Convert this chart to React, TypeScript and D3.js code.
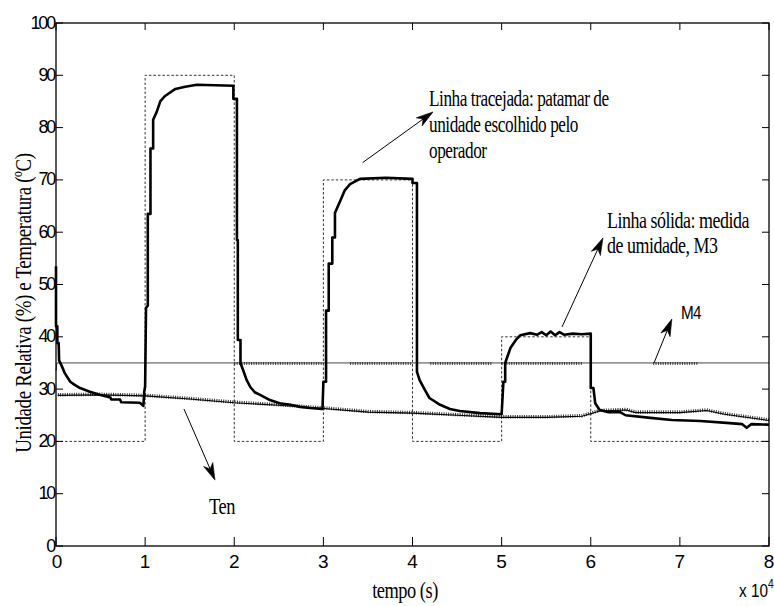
import React from 'react';
import * as d3 from 'd3';

const W = 774;
const H = 606;

// ---------- data (time in units of 10^4 s) ----------
const xTicks = [0, 1, 2, 3, 4, 5, 6, 7, 8];
const yTicks = [0, 10, 20, 30, 40, 50, 60, 70, 80, 90, 100];

// set-point chosen by operator (dashed)
const spTime = [0, 1, 1, 2, 2, 3, 3, 4, 4, 5, 5, 6, 6, 8];
const spValue = [20, 20, 90, 90, 20, 20, 70, 70, 20, 20, 40, 40, 20, 20];

// M3 measured humidity (thick solid)
const m3Time = [
  0, 0, 0.015, 0.015, 0.03, 0.035, 0.07, 0.1, 0.16, 0.21, 0.27, 0.38, 0.49, 0.61, 0.62, 0.72, 0.73, 0.94, 0.98,
  0.99, 1.0, 1.01, 1.03, 1.03, 1.06, 1.06, 1.09, 1.09, 1.13, 1.17, 1.22, 1.34, 1.45, 1.58, 1.99,
  1.99, 2.03, 2.03, 2.04, 2.04, 2.07, 2.07, 2.1, 2.14, 2.18, 2.23, 2.29, 2.4, 2.51, 2.63, 2.74, 2.85, 2.99,
  3.0, 3.03, 3.03, 3.06, 3.06, 3.1, 3.1, 3.13, 3.13, 3.19, 3.24, 3.3, 3.41, 3.7, 4.0,
  4.0, 4.05, 4.05, 4.08, 4.14, 4.19, 4.31, 4.42, 4.53, 4.76, 5.0,
  5.02, 5.04, 5.04, 5.1, 5.16, 5.21, 5.32, 5.4, 5.45, 5.5, 5.55, 5.6, 5.65, 5.7, 5.8, 5.9, 6.0,
  6.0, 6.03, 6.05, 6.1, 6.2, 6.33, 6.39, 6.67, 6.91, 7.23, 7.56, 7.7, 7.75, 7.8, 8.0,
];
const m3Value = [
  53.5, 42, 42, 38.8, 38.8, 35.5, 34.2, 33, 31.4, 30.8, 30.2, 29.5, 28.9, 28.4, 28, 28, 27.5, 27.4, 26.8,
  29.5, 30.5, 45.5, 46, 63.5, 63.5, 76, 76, 81.5, 83, 85, 86, 87.4, 87.8, 88.2, 88,
  85.5, 85.5, 58.5, 58.5, 39.4, 39.4, 35, 33.6, 31.7, 30.4, 29.4, 28.9, 27.9, 27.3, 27, 26.6, 26.4, 26.2,
  31.4, 31.4, 45, 45, 54, 54, 59, 59, 63.7, 66, 68, 69.2, 70.2, 70.4, 70.2,
  69.4, 69.4, 33.3, 31.7, 29.8, 28.3, 27, 26.2, 25.8, 25.4, 25.2,
  31.4, 31.4, 35, 37.9, 39.4, 40.3, 40.7, 40.4, 40.9, 40.3, 41, 40.3, 40.9, 40.4, 40.6, 40.5, 40.6,
  30.2, 30.2, 27.3, 26, 25.6, 25.6, 25, 24.5, 24.1, 23.9, 23.5, 23.3, 22.6, 23.3, 23.2,
];

// Ten (thin solid, noisy)
const tenTime = [0.02, 0.5, 1.0, 1.5, 2.0, 2.5, 3.0, 3.5, 4.0, 4.5, 5.0, 5.5, 5.9, 6.0, 6.1, 6.4, 6.5, 7.0, 7.3, 7.5, 8.0];
const tenValue = [28.8, 28.9, 28.7, 28.1, 27.4, 26.9, 26.3, 25.6, 25.4, 25.0, 24.6, 24.6, 24.8, 25.3, 25.8, 26.0, 25.5, 25.5, 25.9, 25.2, 24.0];

// M4 (thin grey, nearly constant)
const m4Time = [0, 0.01, 8.0];
const m4Value = [33.5, 35.0, 35.0];
const m4NoisyRanges: [number, number][] = [[2.0, 3.0], [3.3, 4.0], [4.2, 4.9], [5.0, 5.9], [6.7, 7.2]];

// annotations: [tailT, tailV, headT, headV]
const arrowTracejada = [3.44, 73.3, 4.23, 83.0];
const arrowSolida = [5.678, 41.9, 6.137, 58.9];
const arrowM4 = [6.71, 35.0, 6.91, 43.4];
const arrowTen = [1.436, 26.2, 1.784, 12.6];

const txtTracejada = ['Linha tracejada: patamar de', 'unidade escolhido pelo', 'operador'];
const txtSolida = ['Linha sólida: medida', 'de umidade, M3'];

export default function App() {
  const x = d3.scaleLinear().domain([0, 8]).range([56, 769]);
  const y = d3.scaleLinear().domain([0, 100]).range([546, 23]);
  const line = d3
    .line<[number, number]>()
    .x((d) => x(d[0]))
    .y((d) => y(d[1]));

  const zip = (t: number[], v: number[]) => t.map((ti, i) => [ti, v[i]] as [number, number]);
  const sp = zip(spTime, spValue);
  const m3 = zip(m3Time, m3Value);
  const ten = zip(tenTime, tenValue);
  const m4 = zip(m4Time, m4Value);

  const arrow = (a: number[], key: string) => {
    const x1 = x(a[0]), y1 = y(a[1]), x2 = x(a[2]), y2 = y(a[3]);
    const dx = x2 - x1, dy = y2 - y1;
    const len = Math.hypot(dx, dy);
    const ux = dx / len, uy = dy / len;
    const nx = -uy, ny = ux;
    const L = 17, w = 5;
    const bx = x2 - L * ux, by = y2 - L * uy;
    const mx = x2 - 0.72 * L * ux, my = y2 - 0.72 * L * uy;
    const head = `M${x2},${y2}L${bx + w * nx},${by + w * ny}L${mx},${my}L${bx - w * nx},${by - w * ny}Z`;
    return (
      <g key={key}>
        <line x1={x1} y1={y1} x2={mx} y2={my} stroke="#000" strokeWidth={1} />
        <path d={head} fill="#000" stroke="#000" strokeWidth={0.6} />
      </g>
    );
  };

  const serif = '"Liberation Serif", "Times New Roman", serif';
  const sans = '"Liberation Sans", Arial, sans-serif';

  const stext = (
    s: string,
    px: number,
    py: number,
    size: number,
    sx: number,
    key: string,
    anchor = 'start',
    family = serif,
    ls = -0.6
  ) => (
    <text
      key={key}
      transform={`translate(${px},${py}) scale(${sx},1)`}
      fontFamily={family}
      fontSize={size}
      letterSpacing={ls}
      textAnchor={anchor}
      fill="#000"
    >
      {s}
    </text>
  );

  return (
    <svg
      width={W}
      height={H}
      style={{ position: 'absolute', left: 0, top: 0, background: '#fff' }}
      xmlns="http://www.w3.org/2000/svg"
    >
      <rect x={0} y={0} width={W} height={H} fill="#fff" />

      {/* set-point dashed */}
      <path d={line(sp) || ''} fill="none" stroke="#333" strokeWidth={1} strokeDasharray="2.5,2" />

      {/* M4 */}
      <path d={line(m4) || ''} fill="none" stroke="#444" strokeWidth={1} />
      {m4NoisyRanges.map((r, i) => (
        <line
          key={`m4n${i}`}
          x1={x(r[0])}
          x2={x(r[1])}
          y1={y(35) + 0.5}
          y2={y(35) + 0.5}
          stroke="#111"
          strokeWidth={3}
          strokeDasharray="1,1.4"
          opacity={0.75}
        />
      ))}

      {/* Ten */}
      <path d={line(ten) || ''} fill="none" stroke="#000" strokeWidth={1.1} />
      <path
        d={line(ten) || ''}
        fill="none"
        stroke="#000"
        strokeWidth={3.4}
        strokeDasharray="1,1.3"
        opacity={0.8}
        transform="translate(0,-0.6)"
      />

      {/* M3 */}
      <path d={line(m3) || ''} fill="none" stroke="#000" strokeWidth={2.6} strokeLinejoin="round" />

      {/* axes box */}
      <rect x={56} y={23} width={713} height={523} fill="none" stroke="#000" strokeWidth={1.3} />
      {xTicks.map((t) => (
        <g key={`xt${t}`}>
          <line x1={x(t)} x2={x(t)} y1={546} y2={537} stroke="#000" strokeWidth={1} />
          <line x1={x(t)} x2={x(t)} y1={23} y2={30} stroke="#000" strokeWidth={1} />
          <text x={x(t) + (t === 0 ? 1 : 0)} y={568} fontFamily={sans} fontSize={19} textAnchor="middle" fill="#000">
            {t}
          </text>
        </g>
      ))}
      {yTicks.map((v) => (
        <g key={`yt${v}`}>
          <line x1={56} x2={63} y1={y(v)} y2={y(v)} stroke="#000" strokeWidth={1} />
          <line x1={769} x2={762} y1={y(v)} y2={y(v)} stroke="#000" strokeWidth={1} />
          <text
            x={54}
            y={y(v) + 5.5}
            fontFamily={sans}
            fontSize={18}
            letterSpacing={-2.2}
            textAnchor="end"
            fill="#000"
          >
            {v}
          </text>
        </g>
      ))}

      {/* axis titles */}
      {stext('tempo (s)', 405, 598, 23, 0.8, 'xl', 'middle')}
      <text transform="translate(739,597) scale(0.85,1)" fontFamily={sans} fontSize={18} fill="#000">
        x 10
        <tspan fontSize={12} dy={-9}>
          4
        </tspan>
      </text>
      <text
        transform="translate(31,303) rotate(-90) scale(0.82,1)"
        fontFamily={serif}
        fontSize={23}
        letterSpacing={-0.4}
        textAnchor="middle"
        fill="#000"
      >
        Unidade Relativa (%) e Temperatura (ºC)
      </text>

      {/* annotations */}
      {arrow(arrowTracejada, 'a1')}
      {arrow(arrowSolida, 'a2')}
      {arrow(arrowM4, 'a3')}
      {arrow(arrowTen, 'a4')}
      {txtTracejada.map((s, i) => stext(s, 429, 106 + i * 26, 23, 0.75, `tt${i}`))}
      {txtSolida.map((s, i) => stext(s, 607, 228 + i * 25, 23, 0.78, `ts${i}`))}
      {stext('M4', 681, 319, 18, 0.85, 'm4', 'start', sans, -1)}
      {stext('Ten', 209, 514, 23, 0.8, 'ten')}
    </svg>
  );
}
